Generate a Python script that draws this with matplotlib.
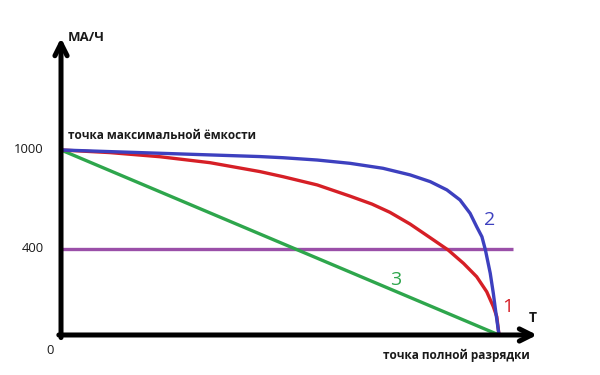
import matplotlib
matplotlib.use('Agg')
import matplotlib.pyplot as plt
import numpy as np

# Values (time as a fraction of full discharge, capacity in mA/h)
t_blue = [0.0, 0.112, 0.226, 0.340, 0.454, 0.507, 0.585, 0.660, 0.735, 0.797,
          0.843, 0.881, 0.911, 0.934, 0.949, 0.961, 0.969, 0.980, 0.987, 0.993, 1.0]
cap_blue = [1000, 990, 980, 970, 960, 953, 939, 919, 889, 849,
            808, 758, 697, 616, 535, 474, 395, 287, 194, 101, 0]

t_red = [0.0, 0.112, 0.226, 0.340, 0.454, 0.507, 0.585, 0.660, 0.710, 0.751, 0.797,
         0.843, 0.884, 0.919, 0.949, 0.972, 0.987, 0.995, 1.0]
cap_red = [1000, 984, 959, 923, 869, 838, 788, 720, 672, 622, 551,
           468, 395, 333, 271, 201, 132, 85, 0]

t_green = [0.0, 0.535, 1.0]
cap_green = [1000, 400, 0]

t_purple = [0.0, 1.032]
cap_purple = [400, 400]

y_ticks = [1000, 400]
y_tick_labels = ['1000', '400']

# The drawing is not to scale: 400 sits higher than a linear axis would put it
def fwd(v):
    v = np.asarray(v, dtype=float)
    return np.where(v < 400, v * 465 / 400, 465 + (v - 400) * 535 / 600)

def inv(p):
    p = np.asarray(p, dtype=float)
    return np.where(p < 465, p * 400 / 465, 400 + (p - 465) * 600 / 535)

plt.rcParams['font.family'] = ['Open Sans', 'DejaVu Sans']

fig = plt.figure(figsize=(6, 3.75), dpi=100)
ax = fig.add_axes([0, 0, 1, 1])
ax.set_yscale('function', functions=(fwd, inv))
ax.set_xlim(-0.1393, 1.2306)
ax.set_ylim(-186, 1909)
ax.axis('off')

ax.plot(t_purple, cap_purple, color='#9a4fa8', lw=2.4, solid_capstyle='butt')
ax.plot(t_green, cap_green, color='#2ea64c', lw=2.4)
ax.plot(t_red, cap_red, color='#d61f26', lw=2.4)
ax.plot(t_blue, cap_blue, color='#3d40bf', lw=2.4)

# axes arrows
arrow = dict(arrowstyle='->', lw=3.6, color='black', mutation_scale=22,
             shrinkA=0, shrinkB=0)
ax.annotate('', xy=(0, 1679), xytext=(0, -12), arrowprops=arrow)
ax.annotate('', xy=(1.087, 0), xytext=(-0.005, 0), arrowprops=arrow)

txt = '#1a1a1a'
ax.text(0.016, 1679, 'МА/Ч', fontsize=9.5, fontweight='bold', color=txt,
        va='center', ha='left')
ax.text(0.016, 1085, 'точка максимальной ёмкости', fontsize=8.5,
        fontweight='bold', color=txt, va='center', ha='left')
for v, lab in zip(y_ticks, y_tick_labels):
    ax.text(-0.04, v, lab, fontsize=9.4, color=txt, va='center', ha='right')
ax.text(-0.024, -73, '0', fontsize=9.4, color=txt, va='center', ha='center')
ax.text(1.078, 79, 'T', fontsize=10, fontweight='bold', color=txt,
        va='center', ha='center')
ax.text(0.903, -93, 'точка полной разрядки', fontsize=8.5,
        fontweight='bold', color=txt, va='center', ha='center')

ax.text(0.979, 576, '2', fontsize=14, color='#3d40bf', va='center', ha='center')
ax.text(1.021, 132, '1', fontsize=14, color='#d61f26', va='center', ha='center')
ax.text(0.763, 256, '3', fontsize=14, color='#2ea64c', va='center', ha='center')

fig.savefig('out.png', dpi=100)
